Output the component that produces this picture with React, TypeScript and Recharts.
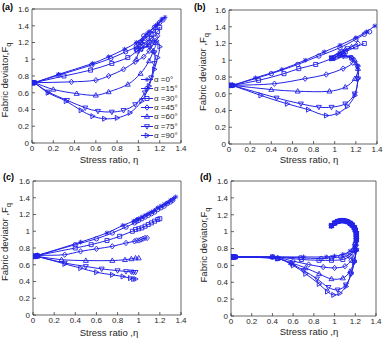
import React from "react";
import { LineChart, Line, XAxis, YAxis, Legend } from "recharts";

const X_TICKS = [0, 0.2, 0.4, 0.6, 0.8, 1, 1.2, 1.4];
const Y_TICKS = [0, 0.2, 0.4, 0.6, 0.8, 1, 1.2, 1.4, 1.6];
const ALPHAS = [0, 15, 30, 45, 60, 75, 90];

// (a)
const A00 = [[0, 0.72], [0.02, 0.72], [0.25, 0.82], [0.57, 0.95], [0.72, 1.03], [0.87, 1.12], [0.98, 1.2], [1.08, 1.3], [1.16, 1.4], [1.22, 1.48], [1.25, 1.5], [1.18, 1.42], [1.1, 1.33], [1.03, 1.22]];
const A15 = [[0, 0.72], [0.02, 0.72], [0.25, 0.81], [0.56, 0.93], [0.74, 1.01], [0.88, 1.09], [0.98, 1.15], [1.06, 1.25], [1.14, 1.34], [1.2, 1.44], [1.23, 1.47], [1.15, 1.38], [1.05, 1.28], [1.0, 1.18]];
const A30 = [[0, 0.72], [0.02, 0.72], [0.3, 0.8], [0.55, 0.87], [0.75, 0.95], [0.9, 1.02], [0.99, 1.1], [1.06, 1.17], [1.12, 1.25], [1.18, 1.33], [1.2, 1.38], [1.12, 1.3], [1.02, 1.2], [0.98, 1.12]];
const A45 = [[0, 0.72], [0.02, 0.72], [0.37, 0.73], [0.6, 0.75], [0.72, 0.8], [0.86, 0.88], [0.97, 0.97], [1.05, 1.03], [1.1, 1.1], [1.15, 1.2], [1.18, 1.28], [1.12, 1.25], [1.04, 1.18], [0.98, 1.12]];
const A60 = [[0, 0.72], [0.02, 0.72], [0.2, 0.64], [0.42, 0.59], [0.6, 0.57], [0.72, 0.61], [0.9, 0.7], [1.02, 0.83], [1.1, 0.98], [1.14, 1.1], [1.16, 1.2], [1.1, 1.17], [1.02, 1.12], [0.98, 1.0]];
const A75 = [[0, 0.72], [0.02, 0.72], [0.15, 0.61], [0.33, 0.51], [0.5, 0.42], [0.62, 0.38], [0.75, 0.37], [0.86, 0.39], [0.97, 0.46], [1.06, 0.6], [1.12, 0.78], [1.15, 0.95], [1.15, 1.08], [1.1, 1.15], [1.03, 1.12]];
const A90 = [[0, 0.72], [0.02, 0.72], [0.15, 0.6], [0.32, 0.5], [0.46, 0.39], [0.57, 0.32], [0.68, 0.29], [0.8, 0.3], [0.92, 0.36], [1.03, 0.5], [1.1, 0.68], [1.15, 0.88], [1.18, 1.02], [1.2, 1.15], [1.17, 1.22], [1.1, 1.2]];

// (b)
const B00 = [[0, 0.7], [0.03, 0.7], [0.25, 0.79], [0.5, 0.89], [0.72, 1.0], [0.9, 1.1], [1.05, 1.18], [1.2, 1.27], [1.3, 1.34], [1.38, 1.41]];
const B15 = [[0, 0.7], [0.03, 0.7], [0.4, 0.84], [0.65, 0.95], [0.85, 1.05], [1.05, 1.15], [1.2, 1.25], [1.28, 1.31], [1.33, 1.34]];
const B30 = [[0, 0.7], [0.03, 0.7], [0.28, 0.76], [0.52, 0.84], [0.66, 0.9], [0.82, 0.95], [0.97, 1.02], [1.1, 1.1], [1.2, 1.16], [1.28, 1.2]];
const B45 = [[0, 0.7], [0.03, 0.7], [0.43, 0.72], [0.72, 0.78], [0.92, 0.83], [1.08, 0.9], [1.17, 0.97], [1.16, 1.03], [1.08, 1.05], [0.98, 1.03], [1.1, 1.12], [1.22, 1.2]];
const B60 = [[0, 0.7], [0.03, 0.7], [0.4, 0.65], [0.65, 0.63], [0.95, 0.63], [1.1, 0.68], [1.19, 0.78], [1.22, 0.9], [1.19, 1.0], [1.1, 1.05], [0.98, 1.02], [1.08, 1.1], [1.16, 1.16]];
const B75 = [[0, 0.7], [0.03, 0.7], [0.45, 0.55], [0.68, 0.48], [0.85, 0.44], [0.97, 0.44], [1.1, 0.48], [1.19, 0.6], [1.22, 0.78], [1.21, 0.93], [1.15, 1.03], [1.05, 1.06], [0.97, 1.03], [1.07, 1.1], [1.12, 1.14]];
const B90 = [[0, 0.7], [0.03, 0.7], [0.3, 0.58], [0.55, 0.48], [0.75, 0.41], [0.92, 0.34], [1.03, 0.37], [1.12, 0.45], [1.19, 0.58], [1.22, 0.78], [1.22, 0.93], [1.16, 1.03], [1.05, 1.06], [0.97, 1.02], [1.05, 1.08]];

// (c)
const C00 = [[0, 0.7], [0.02, 0.7], [0.04, 0.71], [0.45, 0.87], [0.7, 0.98], [0.85, 1.07], [0.95, 1.12], [0.98, 1.14], [1.0, 1.15], [1.03, 1.17], [1.06, 1.19], [1.09, 1.21], [1.12, 1.23], [1.15, 1.25], [1.18, 1.28], [1.21, 1.3], [1.24, 1.32], [1.27, 1.34], [1.3, 1.37], [1.33, 1.39], [1.35, 1.41]];
const C15 = [[0, 0.7], [0.02, 0.7], [0.04, 0.71], [0.4, 0.84], [0.6, 0.91], [0.75, 0.98], [0.88, 1.05], [0.96, 1.1], [0.98, 1.12], [1.0, 1.13], [1.03, 1.15], [1.06, 1.17], [1.09, 1.19], [1.12, 1.21], [1.15, 1.23], [1.18, 1.26], [1.21, 1.28], [1.24, 1.3], [1.27, 1.33], [1.3, 1.35], [1.32, 1.37]];
const C30 = [[0, 0.7], [0.02, 0.7], [0.04, 0.71], [0.4, 0.8], [0.55, 0.84], [0.7, 0.89], [0.82, 0.94], [0.94, 1.0], [0.97, 1.02], [1.0, 1.03], [1.03, 1.04], [1.06, 1.06], [1.09, 1.08], [1.12, 1.1], [1.15, 1.12], [1.18, 1.14], [1.2, 1.15]];
const C45 = [[0, 0.7], [0.02, 0.7], [0.04, 0.71], [0.3, 0.72], [0.45, 0.76], [0.6, 0.79], [0.75, 0.82], [0.88, 0.86], [0.96, 0.88], [0.98, 0.89], [1.0, 0.89], [1.02, 0.9], [1.04, 0.91], [1.06, 0.92], [1.08, 0.92]];
const C60 = [[0, 0.7], [0.02, 0.7], [0.04, 0.7], [0.27, 0.66], [0.5, 0.65], [0.75, 0.65], [0.87, 0.66], [0.93, 0.67], [0.97, 0.68], [1.0, 0.68]];
const C75 = [[0, 0.7], [0.02, 0.7], [0.04, 0.7], [0.3, 0.62], [0.5, 0.58], [0.65, 0.55], [0.8, 0.53], [0.88, 0.52], [0.93, 0.515], [0.95, 0.51], [0.97, 0.51]];
const C90 = [[0, 0.7], [0.02, 0.7], [0.04, 0.7], [0.3, 0.61], [0.45, 0.56], [0.6, 0.51], [0.75, 0.48], [0.85, 0.46], [0.92, 0.44], [0.95, 0.43], [0.97, 0.43]];

// (d) — every curve finishes along the same hook
const D_HOOK = [[1.21, 0.9], [1.21, 0.94], [1.21, 0.98], [1.2, 1.02], [1.19, 1.05], [1.17, 1.08], [1.15, 1.1], [1.12, 1.12], [1.09, 1.13], [1.06, 1.13], [1.03, 1.12], [1.0, 1.1], [0.97, 1.07]];
const D00 = [[0, 0.7], [0.02, 0.7], [0.04, 0.7], [0.4, 0.7], [0.7, 0.7], [0.92, 0.7], [1.0, 0.71], [1.08, 0.73], [1.15, 0.77], [1.19, 0.83], ...D_HOOK];
const D15 = [[0, 0.7], [0.02, 0.7], [0.04, 0.7], [0.4, 0.7], [0.67, 0.69], [0.87, 0.68], [0.97, 0.69], [1.06, 0.7], [1.13, 0.72], [1.18, 0.78], [1.2, 0.85], ...D_HOOK];
const D30 = [[0, 0.7], [0.02, 0.7], [0.04, 0.7], [0.4, 0.7], [0.68, 0.67], [0.85, 0.66], [0.97, 0.66], [1.08, 0.67], [1.15, 0.71], [1.19, 0.78], [1.2, 0.85], ...D_HOOK];
const D45 = [[0, 0.7], [0.02, 0.7], [0.04, 0.7], [0.45, 0.69], [0.6, 0.65], [0.75, 0.61], [0.89, 0.58], [1.0, 0.57], [1.1, 0.59], [1.16, 0.66], [1.2, 0.77], [1.21, 0.84], ...D_HOOK];
const D60 = [[0, 0.7], [0.02, 0.7], [0.04, 0.7], [0.45, 0.68], [0.58, 0.63], [0.72, 0.57], [0.85, 0.5], [0.97, 0.44], [1.08, 0.45], [1.15, 0.53], [1.19, 0.66], [1.21, 0.79], ...D_HOOK];
const D75 = [[0, 0.7], [0.02, 0.7], [0.04, 0.7], [0.45, 0.68], [0.58, 0.62], [0.7, 0.54], [0.83, 0.44], [0.94, 0.34], [1.03, 0.31], [1.11, 0.37], [1.16, 0.5], [1.19, 0.64], [1.21, 0.78], ...D_HOOK];
const D90 = [[0, 0.7], [0.02, 0.7], [0.04, 0.7], [0.45, 0.68], [0.6, 0.6], [0.72, 0.5], [0.85, 0.38], [0.93, 0.29], [0.99, 0.25], [1.05, 0.27], [1.11, 0.35], [1.16, 0.5], [1.19, 0.64], [1.21, 0.78], ...D_HOOK];

const BLUE = "#2323e8";
const INK = "#262626";
const FONT = "'Liberation Sans', Arial, sans-serif";
const MARKERS = ["star", "circle", "square", "diamond", "triUp", "triDown", "triRight"];

// smooth curve through the points, tangents scaled by segment length (no overshoot on uneven spacing)
function smoothCurve(context: any) {
  let pts: number[][] = [];
  return {
    areaStart() {},
    areaEnd() {},
    lineStart() {
      pts = [];
    },
    point(x: number, y: number) {
      pts.push([+x, +y]);
    },
    lineEnd() {
      if (!pts.length) return;
      context.moveTo(pts[0][0], pts[0][1]);
      const dir = (i: number) => {
        const a = pts[Math.max(0, i - 1)];
        const b = pts[Math.min(pts.length - 1, i + 1)];
        const dx = b[0] - a[0];
        const dy = b[1] - a[1];
        const len = Math.hypot(dx, dy) || 1;
        return [dx / len, dy / len];
      };
      for (let i = 0; i < pts.length - 1; i++) {
        const p1 = pts[i];
        const p2 = pts[i + 1];
        const d = Math.hypot(p2[0] - p1[0], p2[1] - p1[1]) / 3;
        const t1 = dir(i);
        const t2 = dir(i + 1);
        context.bezierCurveTo(p1[0] + t1[0] * d, p1[1] + t1[1] * d, p2[0] - t2[0] * d, p2[1] - t2[1] * d, p2[0], p2[1]);
      }
    },
  };
}

function markerPath(kind: string, cx: number, cy: number) {
  switch (kind) {
    case "star":
      return `M${cx - 2.4},${cy}H${cx + 2.4}M${cx},${cy - 2.4}V${cy + 2.4}M${cx - 1.7},${cy - 1.7}L${cx + 1.7},${cy + 1.7}M${cx - 1.7},${cy + 1.7}L${cx + 1.7},${cy - 1.7}`;
    case "square":
      return `M${cx - 2},${cy - 2}h4v4h-4Z`;
    case "diamond":
      return `M${cx},${cy - 2.7}L${cx + 2.3},${cy}L${cx},${cy + 2.7}L${cx - 2.3},${cy}Z`;
    case "triUp":
      return `M${cx},${cy - 2.6}L${cx + 2.5},${cy + 1.8}L${cx - 2.5},${cy + 1.8}Z`;
    case "triDown":
      return `M${cx},${cy + 2.6}L${cx + 2.5},${cy - 1.8}L${cx - 2.5},${cy - 1.8}Z`;
    case "triRight":
      return `M${cx + 2.6},${cy}L${cx - 1.8},${cy + 2.5}L${cx - 1.8},${cy - 2.5}Z`;
    default:
      return `M${cx - 2.2},${cy}a2.2,2.2 0 1,0 4.4,0a2.2,2.2 0 1,0 -4.4,0`;
  }
}

function Marker({ cx, cy, kind }: { cx: number; cy: number; kind: string }) {
  return <path d={markerPath(kind, cx, cy)} fill="none" stroke={BLUE} strokeWidth={0.9} />;
}

const toPts = (arr: number[][]) => arr.map(([x, y]) => ({ x, y }));
const fmt = (v: number) => String(v);

function AlphaLegend() {
  return (
    <div style={{ fontFamily: FONT, fontSize: 8, color: INK }}>
      {ALPHAS.map((a, i) => (
        <div key={a} style={{ display: "flex", alignItems: "center", height: 9.3 }}>
          <svg width={12} height={9} style={{ marginRight: 1 }}>
            <line x1={0} y1={4.5} x2={12} y2={4.5} stroke={BLUE} strokeWidth={1} />
            <Marker cx={6} cy={4.5} kind={MARKERS[i]} />
          </svg>
          <span>{`α =${a}°`}</span>
        </div>
      ))}
    </div>
  );
}

type PanelProps = {
  tag: string;
  series: number[][][];
  left: number;
  top: number;
  width: number;
  height: number;
  margin: { top: number; right: number; bottom: number; left: number };
  yLabel: string;
  yLab: [number, number];
  xLabel: string;
  xLab: [number, number];
  tagX: number;
  legend?: boolean;
};

function Panel(p: PanelProps) {
  const axisText = { fontSize: 8, fill: INK, fontFamily: FONT };
  return (
    <div style={{ position: "absolute", left: p.left, top: p.top }}>
      <LineChart width={p.width} height={p.height} margin={p.margin}>
        <XAxis
          xAxisId="b"
          dataKey="x"
          type="number"
          domain={[0, 1.4]}
          ticks={X_TICKS}
          tickFormatter={fmt}
          interval={0}
          allowDataOverflow
          height={1}
          tickSize={-3}
          tickMargin={5}
          tick={axisText}
          stroke={INK}
          strokeWidth={0.7}
          label={() => (
            <text x={p.xLab[0]} y={p.xLab[1]} textAnchor="middle" fontSize={9.5} fontFamily={FONT} fill={INK}>
              {p.xLabel}
            </text>
          )}
        />
        <XAxis xAxisId="t" orientation="top" type="number" domain={[0, 1.4]} ticks={X_TICKS} interval={0} height={1} tickSize={-3} tick={false} stroke={INK} strokeWidth={0.7} />
        <YAxis
          yAxisId="l"
          type="number"
          domain={[0, 1.6]}
          ticks={Y_TICKS}
          tickFormatter={fmt}
          interval={0}
          allowDataOverflow
          width={1}
          tickSize={-3}
          tickMargin={6}
          tick={axisText}
          stroke={INK}
          strokeWidth={0.7}
          label={() => (
            <g>
              <text x={p.tagX} y={10} fontSize={9} fontWeight="bold" fontFamily={FONT} fill="#000">
                {p.tag}
              </text>
              <text
                x={p.yLab[0]}
                y={p.yLab[1]}
                transform={`rotate(-90 ${p.yLab[0]} ${p.yLab[1]})`}
                textAnchor="middle"
                fontSize={9.5}
                fontFamily={FONT}
                fill={INK}
              >
                {p.yLabel}
                <tspan dy={2.5} fontSize={7.5}>q</tspan>
              </text>
            </g>
          )}
        />
        <YAxis yAxisId="r" orientation="right" type="number" domain={[0, 1.6]} ticks={Y_TICKS} interval={0} width={1} tickSize={-3} tick={false} stroke={INK} strokeWidth={0.7} />
        {p.series.map((s, i) => (
          <Line
            key={ALPHAS[i]}
            xAxisId="b"
            yAxisId="l"
            data={toPts(s)}
            dataKey="y"
            name={`α =${ALPHAS[i]}°`}
            type={smoothCurve as any}
            stroke={BLUE}
            strokeWidth={1}
            dot={(d: any) => <Marker key={`${i}-${d.index}`} cx={d.cx} cy={d.cy} kind={MARKERS[i]} />}
            activeDot={false}
            isAnimationActive={false}
          />
        ))}
        {p.legend && (
          <Legend
            layout="vertical"
            align="center"
            verticalAlign="middle"
            content={() => <AlphaLegend />}
            wrapperStyle={{ left: 141, top: 75, width: 50 }}
          />
        )}
      </LineChart>
    </div>
  );
}

export default function App() {
  return (
    <div style={{ position: "absolute", left: 0, top: 0, width: 383, height: 341, background: "#fff" }}>
      <Panel
        tag="(a)"
        series={[A00, A15, A30, A45, A60, A75, A90]}
        left={0}
        top={0}
        width={192}
        height={170}
        margin={{ top: 8, right: 10, bottom: 26, left: 31 }}
        yLabel="Fabric deviator,F"
        yLab={[8, 80]}
        xLabel="Stress ratio, η"
        xLab={[109, 163]}
        tagX={2}
        legend
      />
      <Panel
        tag="(b)"
        series={[B00, B15, B30, B45, B60, B75, B90]}
        left={192}
        top={0}
        width={191}
        height={170}
        margin={{ top: 9, right: 5, bottom: 25, left: 36 }}
        yLabel="Fabric deviator ,F"
        yLab={[14, 72]}
        xLabel="Stress ratio, η"
        xLab={[117, 163]}
        tagX={2}
      />
      <Panel
        tag="(c)"
        series={[C00, C15, C30, C45, C60, C75, C90]}
        left={0}
        top={170}
        width={192}
        height={171}
        margin={{ top: 10, right: 10, bottom: 25, left: 32 }}
        yLabel="Fabric deviator ,F"
        yLab={[8, 72]}
        xLabel="Stress ratio ,η"
        xLab={[109, 166]}
        tagX={3}
      />
      <Panel
        tag="(d)"
        series={[D00, D15, D30, D45, D60, D75, D90]}
        left={192}
        top={170}
        width={191}
        height={171}
        margin={{ top: 10, right: 6, bottom: 24, left: 38 }}
        yLabel="Fabric deviator,F"
        yLab={[15, 75]}
        xLabel="Stress ratio ,η"
        xLab={[117, 165]}
        tagX={8}
      />
    </div>
  );
}
